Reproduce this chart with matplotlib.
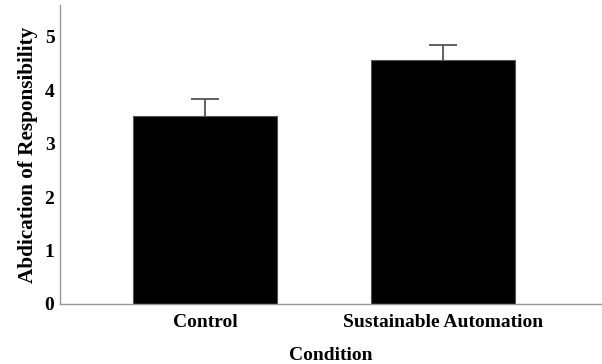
import matplotlib
matplotlib.use("Agg")
import matplotlib.pyplot as plt
import numpy as np

categories = ["Control", "Sustainable Automation"]
means = [3.52, 4.57]
errors = [0.32, 0.27]

plt.rcParams['font.family'] = ['Liberation Serif', 'DejaVu Serif']

fig = plt.figure(figsize=(6.02, 3.64), dpi=100)
ax = fig.add_axes([60/602, 60/364, 542/602, 299/364])

x = list(range(len(categories)))
ax.bar(x, means, width=0.605, color='black', edgecolor='#555555', linewidth=0.8, zorder=2)
eb = ax.errorbar(x, means, yerr=[[0]*len(errors), errors], fmt='none', capsize=10,
                 ecolor='#555555', elinewidth=1.3, capthick=1.3, zorder=3)
for cl in eb[1]:
    if np.allclose(np.asarray(cl.get_ydata(), dtype=float), means):
        cl.set_visible(False)

ax.set_xlim(-0.61, 1.67)
ax.set_ylim(0, 5.59)
ax.set_xticks(x)
ax.set_xticklabels(categories, fontsize=14, fontweight='bold')
ax.set_yticks(range(6))
ax.set_yticklabels([str(i) for i in range(6)], fontsize=14, fontweight='bold')
ax.tick_params(axis='x', length=0, pad=7)
ax.tick_params(axis='y', length=0, pad=4)
for s in ['top', 'right']:
    ax.spines[s].set_visible(False)
for s in ['left', 'bottom']:
    ax.spines[s].set_color('#999999')
    ax.spines[s].set_linewidth(1.0)

ax.set_xlabel("Condition", fontsize=14, fontweight='bold', labelpad=12)
ax.set_ylabel("Abdication of Responsibility", fontsize=15.3, fontweight='bold', labelpad=5)

fig.savefig("out.png", dpi=100)
